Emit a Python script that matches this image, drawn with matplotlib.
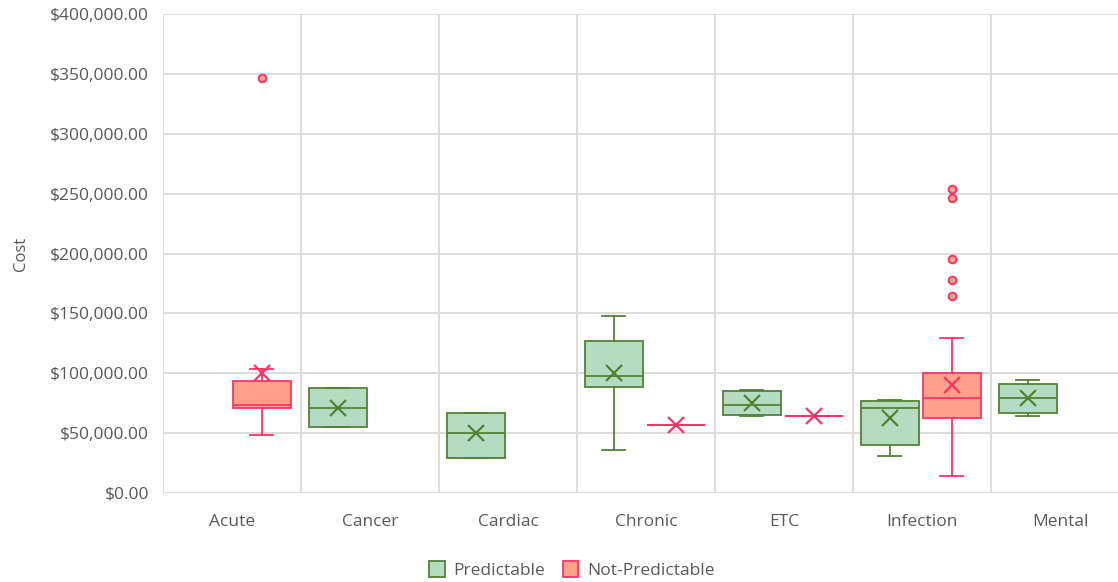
import matplotlib.pyplot as plt
from matplotlib.patches import Patch
from matplotlib.ticker import FuncFormatter

# Categorías y estadísticas de cada caja
categorias = ["Acute", "Cancer", "Cardiac", "Chronic", "ETC", "Infection", "Mental"]

# Predictable (None = sin datos)
pred_lo   = [None, 55400, 29000, 35900, 64300, 30600, 64000]
pred_q1   = [None, 55400, 29000, 88800, 64900, 40000, 66800]
pred_med  = [None, 71200, 49800, 97700, 73700, 71000, 79300]
pred_q3   = [None, 88000, 67000, 127000, 85400, 76800, 90800]
pred_hi   = [None, 88000, 67000, 148000, 86000, 78000, 94600]
pred_mean = [None, 71000, 50000, 100500, 75400, 62400, 79300]
pred_out  = [[], [], [], [], [], [], []]

# Not-Predictable
np_lo   = [48400, None, None, 57000, 64000, 13900, None]
np_q1   = [70700, None, None, 57000, 64000, 62600, None]
np_med  = [73200, None, None, 57000, 64000, 79300, None]
np_q3   = [93500, None, None, 57000, 64000, 100500, None]
np_hi   = [103500, None, None, 57000, 64000, 129700, None]
np_mean = [100500, None, None, 57000, 64000, 90200, None]
np_out  = [[346600], [], [], [], [], [253600, 246000, 195700, 177600, 164800], []]

verde_borde, verde_relleno = "#548235", "#B4DCC0"
rojo_borde, rojo_relleno = "#FF3366", "#FFA08A"
gris = "#595959"

fig = plt.figure(figsize=(11.18, 5.82), dpi=100)
plt.rcParams['font.family'] = ['Open Sans', 'DejaVu Sans']
ax = fig.add_axes([163/1118, 1 - 493/582, 966/1118, 479/582])


def stats(lo, q1, med, q3, hi, mean, out):
    res, pos = [], []
    for i in range(len(categorias)):
        if med[i] is None:
            continue
        res.append(dict(whislo=lo[i], q1=q1[i], med=med[i], q3=q3[i],
                        whishi=hi[i], mean=mean[i], fliers=out[i]))
        pos.append(i)
    return res, pos


def dibujar(st, pos, offset, borde, relleno):
    lw = 1.3
    ax.bxp(st, positions=[p + offset for p in pos], widths=0.42,
           patch_artist=True, showmeans=True, showcaps=True,
           boxprops=dict(facecolor=relleno, edgecolor=borde, linewidth=lw),
           medianprops=dict(color=borde, linewidth=lw),
           whiskerprops=dict(color=borde, linewidth=lw),
           capprops=dict(color=borde, linewidth=lw),
           capwidths=0.17,
           meanprops=dict(marker="x", markeredgecolor=borde, markersize=11,
                          markeredgewidth=1.6),
           flierprops=dict(marker="o", markerfacecolor=relleno,
                           markeredgecolor=borde, markersize=5.5,
                           markeredgewidth=1.4),
           zorder=3)


s, p = stats(pred_lo, pred_q1, pred_med, pred_q3, pred_hi, pred_mean, pred_out)
dibujar(s, p, -0.235, verde_borde, verde_relleno)
s, p = stats(np_lo, np_q1, np_med, np_q3, np_hi, np_mean, np_out)
dibujar(s, p, 0.215, rojo_borde, rojo_relleno)

# Ejes y rejilla
ax.set_xlim(-0.5, 6.5)
ax.set_ylim(0, 400000)
ax.set_yticks(range(0, 400001, 50000))
ax.yaxis.set_major_formatter(FuncFormatter(lambda v, _: f"${v:,.2f}"))
ax.set_xticks(range(len(categorias)))
ax.set_xticklabels(categorias)
ax.set_xticks([i + 0.5 for i in range(-1, 7)], minor=True)
ax.grid(axis='y', color="#D9D9D9", linewidth=1.3)
ax.grid(axis='x', which='minor', color="#D9D9D9", linewidth=1.3)
ax.set_axisbelow(True)
for sp in ax.spines.values():
    sp.set_visible(False)
ax.tick_params(axis='both', which='both', length=0, colors=gris, labelsize=12.5)
ax.tick_params(axis='y', pad=10)
ax.tick_params(axis='x', pad=15)
ax.set_ylabel("Cost", color=gris, fontsize=12, labelpad=15)

# Leyenda
handles = [Patch(facecolor=verde_relleno, edgecolor=verde_borde, linewidth=1.3, label="Predictable"),
           Patch(facecolor=rojo_relleno, edgecolor=rojo_borde, linewidth=1.3, label="Not-Predictable")]
fig.legend(handles=handles, loc="center", bbox_to_anchor=(572/1118, 1 - 570/582),
           ncol=2, frameon=False, fontsize=12.5, labelcolor=gris,
           handlelength=0.9, handleheight=1.0, handletextpad=0.5, columnspacing=1.0)

fig.savefig("out.png", dpi=100)
